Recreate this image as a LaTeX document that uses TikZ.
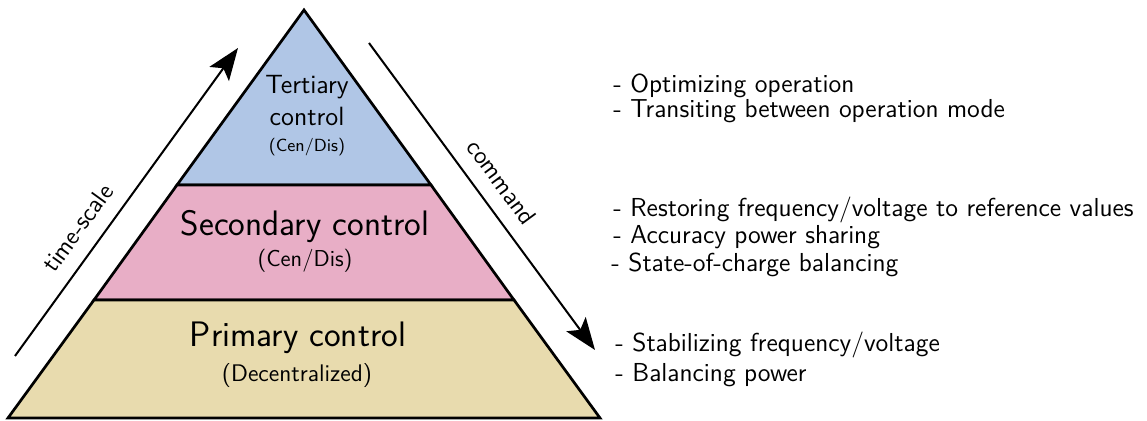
\documentclass[tikz,border=0pt]{standalone}
\usetikzlibrary{arrows.meta}
\renewcommand{\familydefault}{\sfdefault}

\definecolor{tertiaryblue}{RGB}{176,198,230}
\definecolor{secondarypink}{RGB}{232,174,198}
\definecolor{primarytan}{RGB}{232,219,174}

\begin{document}
\begin{tikzpicture}[x=0.5pt, y=-0.5pt]
\useasboundingbox (0,0) rectangle (1147,421);

% corners of the pyramid
\coordinate (apex) at (304, 10);
\coordinate (tertiary-left) at (177, 185);
\coordinate (tertiary-right) at (431, 185);
\coordinate (secondary-left) at (94, 300);
\coordinate (secondary-right) at (514, 300);
\coordinate (base-left) at (8, 418);
\coordinate (base-right) at (600, 418);

\begin{scope}[line width=1.35pt]
    \filldraw [fill=tertiaryblue] (apex) -- (tertiary-right) -- (tertiary-left) -- cycle;
    \filldraw [fill=secondarypink] (tertiary-left) -- (tertiary-right) -- (secondary-right) -- (secondary-left) -- cycle;
    \filldraw [fill=primarytan] (secondary-left) -- (secondary-right) -- (base-right) -- (base-left) -- cycle;
\end{scope}

\begin{scope}[every node/.style={anchor=base, inner sep=0pt}]
    \node (tertiary) at (307, 94) [font=\fontsize{13.2}{15}\selectfont] {Tertiary};
    \node (tertiary-ctrl) at (307, 126) [font=\fontsize{13.2}{15}\selectfont] {control};
    \node (tertiary-type) at (307, 152) [font=\fontsize{8.8}{10}\selectfont] {(Cen/Dis)};

    \node (secondary) at (305, 236) [font=\fontsize{17.7}{20}\selectfont] {Secondary control};
    \node (secondary-type) at (305, 267) [font=\fontsize{11.5}{13}\selectfont] {(Cen/Dis)};

    \node (primary) at (298, 347) [font=\fontsize{17.7}{20}\selectfont] {Primary control};
    \node (primary-type) at (297, 382) [font=\fontsize{12}{14}\selectfont] {(Decentralized)};
\end{scope}

\begin{scope}[every node/.style={anchor=base west, inner sep=0pt, font=\fontsize{13}{15}\selectfont}]
    \node (optimizing) at (613, 93) {- Optimizing operation};
    \node (transiting) at (613, 118) {- Transiting between operation mode};

    \node (restoring) at (613, 217) {- Restoring frequency/voltage to reference values};
    \node (accuracy) at (613, 244) {- Accuracy power sharing};
    \node (soc) at (611, 272) {- State-of-charge balancing};

    \node (stabilizing) at (615, 352) {- Stabilizing frequency/voltage};
    \node (balancing) at (615, 382) {- Balancing power};
\end{scope}

% ends of the two arrows
\coordinate (timescale-start) at (15, 356);
\coordinate (timescale-end) at (238, 48);
\coordinate (command-start) at (369, 43);
\coordinate (command-end) at (595, 350);

\begin{scope}[>={Stealth[black, length=16pt, width=12pt, inset=3.5pt]},
              every edge/.style={draw, line width=1pt}]
    \path [->] (timescale-start) edge node [sloped, above=4pt, pos=0.37, font=\fontsize{12.5}{14}\selectfont] (timescale) {time-scale} (timescale-end);
    \path [->] (command-start) edge node [sloped, above=4pt, pos=0.5, font=\fontsize{12.5}{14}\selectfont] (command) {command} (command-end);
\end{scope}
\end{tikzpicture}
\end{document}
